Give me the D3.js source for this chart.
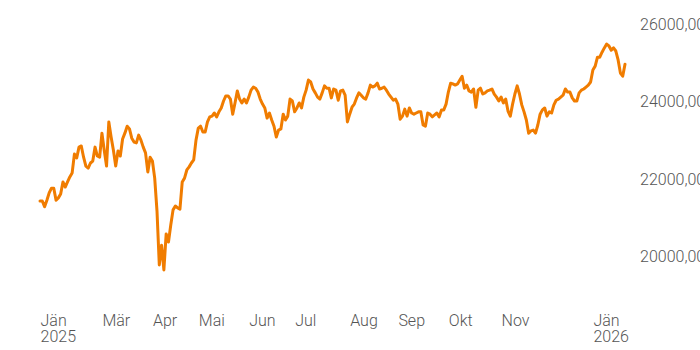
<!DOCTYPE html>
<html>
<head>
<meta charset="utf-8">
<script src="https://cdn.jsdelivr.net/npm/d3@7"></script>
<style>
  html, body { margin: 0; padding: 0; background: #fff; }
  svg text { font-family: Roboto, "Liberation Sans", Arial, sans-serif; font-weight: 300; font-size: 16px; fill: #555; }
</style>
</head>
<body>
<svg id="chart" width="700" height="350"></svg>
<script>
// Closing values by trading day (index 0 = first trading day shown)
const values = [
  21420,21420,21270,21440,21630,21750,21750,21440,21500,21600,
  21910,21780,21910,22040,22140,22630,22530,22810,22840,22550,
  22320,22270,22400,22450,22810,22580,22550,23170,22730,22320,
  23460,23070,22730,22320,22710,22580,23020,23170,23350,23280,
  23040,22940,22920,23120,22990,22810,22660,22170,22550,22450,
  22010,21160,19770,20280,19640,20570,20360,20800,21190,21290,
  21240,21210,21910,22010,22220,22300,22400,22480,22990,23300,
  23350,23200,23200,23460,23590,23610,23690,23590,23720,23820,
  24000,24130,24130,24050,23660,23950,24260,24050,23950,24050,
  23950,24100,24280,24360,24330,24230,24050,23920,23820,23560,
  23690,23510,23350,23070,23250,23280,23660,23510,23610,24050,
  24000,23720,23820,23950,23820,24100,24280,24540,24490,24310,
  24210,24100,24050,24210,24390,24330,24330,24080,24310,24280,
  24020,24260,24280,24150,23460,23660,23840,23920,24080,24210,
  24150,24080,24050,24210,24410,24360,24390,24460,24310,24330,
  24360,24280,24180,24100,24020,24050,23920,23530,23610,23790,
  23610,23820,23690,23660,23690,23720,23720,23380,23350,23690,
  23660,23590,23640,23690,23590,23770,23770,23920,24230,24460,
  24440,24410,24440,24540,24640,24330,24410,24260,24230,24310,
  23840,24280,24330,24180,24210,24260,24280,24310,24180,24100,
  24000,24100,23950,24050,23740,23610,23920,24180,24390,24180,
  23900,23720,23510,23170,23230,23250,23170,23380,23660,23770,
  23820,23610,23720,23690,23900,24020,24050,24100,24150,24310,
  24230,24230,24080,24000,24000,24210,24280,24310,24360,24410,
  24490,24800,24900,25130,25130,25260,25370,25470,25420,25310,
  25370,25290,25060,24720,24640,24950
];

// Month labels: trading-day index where each label sits
const tickDays   = [0, 27, 49, 69, 91, 111, 135, 156, 178, 201, 241];
const tickMonths = ["Jän","Mär","Apr","Mai","Jun","Jul","Aug","Sep","Okt","Nov","Jän"];
const tickYears  = ["2025","","","","","","","","","","2026"];

const yTicks = [20000, 22000, 24000, 26000];

const svg = d3.select("#chart");

const x = d3.scaleLinear().domain([0, values.length - 1]).range([40, 625]);
const y = d3.scaleLinear().domain([20000, 26000]).range([256, 23.5]);

const locale = d3.formatLocale({decimal: ",", thousands: ".", grouping: [3], currency: ["", " €"]});
const fmt = locale.format(".2f");

// Y axis (right side, text only)
const yAxis = d3.axisRight(y).tickValues(yTicks).tickFormat(fmt).tickSize(0).tickPadding(0);
const gy = svg.append("g").attr("transform", "translate(640,0)").call(yAxis);
gy.select(".domain").remove();
gy.selectAll("text").attr("x", 0).attr("dy", "0.35em").attr("text-anchor", "start")
  .style("font-family", null).style("font-size", null).attr("font-family", null).attr("font-size", null);

// X axis (bottom, text only, two-line labels)
const xAxis = d3.axisBottom(x).tickValues(tickDays).tickFormat("").tickSize(0);
const gx = svg.append("g").attr("transform", "translate(0,300)").call(xAxis);
gx.select(".domain").remove();
gx.attr("font-family", null).attr("font-size", null);
gx.selectAll(".tick").each(function(d, i) {
  const g = d3.select(this);
  g.selectAll("text").remove();
  const t = g.append("text").attr("text-anchor", "start").attr("x", 0);
  t.append("tspan").attr("x", 0).attr("y", 26).text(tickMonths[i]);
  if (tickYears[i]) t.append("tspan").attr("x", 0).attr("y", 42).text(tickYears[i]);
});
gy.attr("font-family", null).attr("font-size", null);

// Line
const line = d3.line().x((d, i) => x(i)).y(d => y(d)).curve(d3.curveLinear);
svg.append("path")
  .datum(values)
  .attr("d", line)
  .attr("fill", "none")
  .attr("stroke", "#f07c00")
  .attr("stroke-width", 3)
  .attr("stroke-linejoin", "round")
  .attr("stroke-linecap", "round");
</script>
</body>
</html>
